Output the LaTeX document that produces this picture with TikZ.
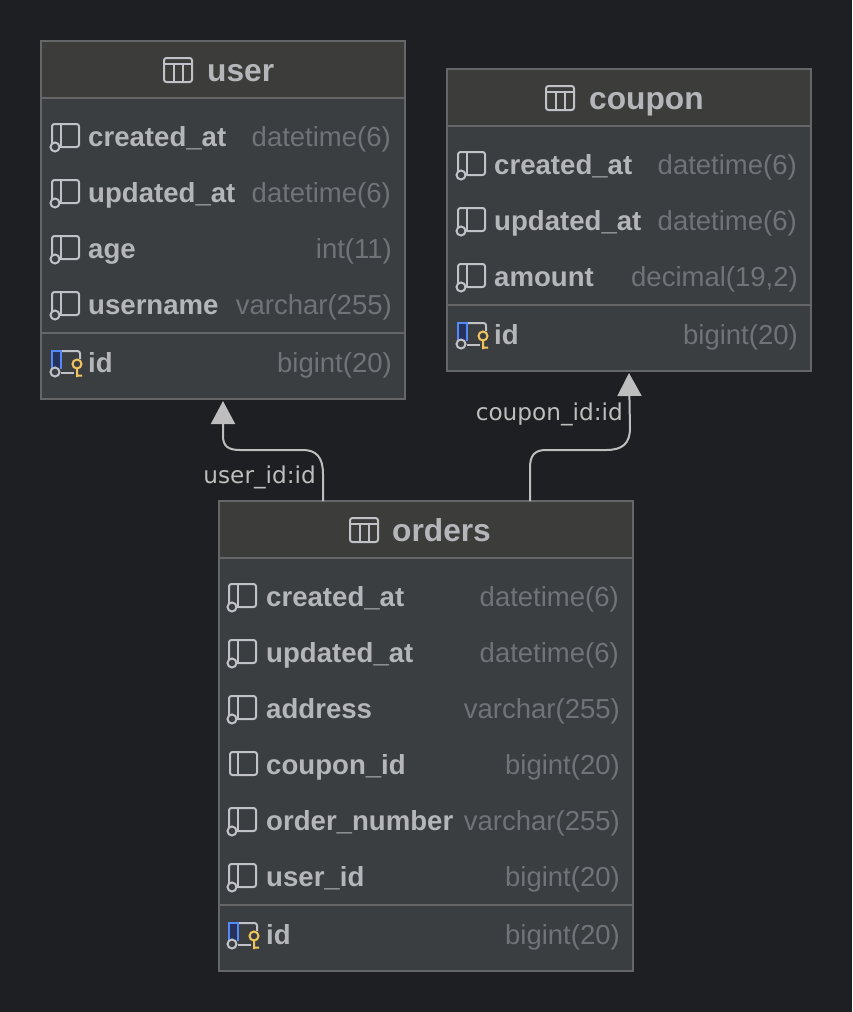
\documentclass[tikz,border=0pt]{standalone}
\usepackage{xcolor}
\usepackage{fontspec}
\setmainfont{Liberation Sans}
\newfontfamily\edgefont{DejaVu Sans}
\usetikzlibrary{arrows.meta}
\definecolor{canvasbg}{RGB}{30,31,34}
\definecolor{headbg}{RGB}{60,60,58}
\definecolor{bodybg}{RGB}{58,62,65}
\definecolor{frameline}{RGB}{100,102,104}
\definecolor{nametext}{RGB}{180,182,186}
\definecolor{typetext}{RGB}{112,115,119}
\definecolor{edgeline}{RGB}{190,190,190}
\definecolor{iconline}{RGB}{192,194,200}
\definecolor{pkblue}{RGB}{84,138,247}
\definecolor{pkfill}{RGB}{37,50,92}
\definecolor{keygold}{RGB}{242,197,92}

\begin{document}
\begin{tikzpicture}[x=1pt,y=-1pt,
    tablebody/.style={rectangle, draw=frameline, fill=bodybg, line width=1.2pt, inner sep=0pt, outer sep=0pt},
    tablehead/.style={rectangle, draw=frameline, fill=headbg, line width=1.2pt, inner sep=0pt, outer sep=0pt},
    tabletitle/.style={anchor=base west, inner sep=0pt, text=nametext, font=\fontsize{31.7}{32}\selectfont\bfseries},
    fieldname/.style={anchor=base west, inner sep=0pt, text=nametext, font=\fontsize{27.6}{28}\selectfont\bfseries},
    fieldtype/.style={anchor=base east, inner sep=0pt, text=typetext, font=\fontsize{27.5}{28}\selectfont},
    edgelabel/.style={anchor=base east, inner sep=0pt, text=edgeline, font=\fontsize{23.2}{24}\selectfont\edgefont},
    fklink/.style={-{Triangle[length=23pt,width=24pt]}, draw=edgeline, fill=none, line width=2pt},
    rowline/.style={draw=frameline, line width=1.2pt},
    icon/.style={draw=iconline, line width=2pt},
    pics/tableicon/.style={code={
        \draw[icon, rounded corners=2.5pt] (0,-12) rectangle (28,12);
        \draw[icon] (0,-6) -- (28,-6) (10,-6) -- (10,12) (19,-6) -- (19,12);
    }},
    pics/plaincol/.style={code={
        \draw[icon, rounded corners=2.5pt] (12,-13) rectangle (39,10);
        \draw[icon] (20,-13) -- (20,10);
    }},
    pics/linkcol/.style={code={
        \draw[icon, rounded corners=2.5pt] (11,6) -- (11,-13) -- (38,-13) -- (38,10) -- (19,10);
        \draw[icon] (20,-13) -- (20,10);
        \draw[icon, fill=bodybg] (14,10) circle (4.5);
    }},
    pics/keycol/.style={code={
        \fill[pkfill] (11,-12) rectangle (20,6);
        \draw[icon, rounded corners=2.5pt] (20,-12) -- (39,-12) -- (39,-4);
        \draw[icon] (20,10) -- (33,10);
        \draw[pkblue, line width=2pt] (11,6) -- (11,-12) -- (20,-12) -- (20,6);
        \draw[icon, fill=bodybg] (14,9) circle (4.5);
        \draw[keygold, line width=2pt] (36,1) circle (4.5) (36,5.5) -- (36,14) (36,12.5) -- (41,12.5);
    }}
]

% Background
\fill[canvasbg] (0,0) rectangle (852,1012);

% Table user
\node[tablebody, minimum width=364pt, minimum height=358pt] (user) at (223,220) {};
\node[tablehead, minimum width=364pt, minimum height=57pt] (userhead) at (223,69.5) {};
\pic at (164,70) {tableicon};
\node[tabletitle] (usertitle) at (207,81) {user};
\draw[rowline] (user.west |- 0,333) -- (user.east |- 0,333);

\pic at (41,137) {linkcol};
\node[fieldname] (user1) at (88,146) {created\_at};
\node[fieldtype] (user1t) at (391,146) {datetime(6)};
\pic at (41,193) {linkcol};
\node[fieldname] (user2) at (88,202) {updated\_at};
\node[fieldtype] (user2t) at (391,202) {datetime(6)};
\pic at (41,249) {linkcol};
\node[fieldname] (user3) at (88,258) {age};
\node[fieldtype] (user3t) at (392,258) {int(11)};
\pic at (41,305) {linkcol};
\node[fieldname] (user4) at (88,314) {username};
\node[fieldtype] (user4t) at (392,314) {varchar(255)};
\pic at (41,363) {keycol};
\node[fieldname] (user5) at (88,372) {id};
\node[fieldtype] (user5t) at (392,372) {bigint(20)};

% Table coupon
\node[tablebody, minimum width=364pt, minimum height=302pt] (coupon) at (629,220) {};
\node[tablehead, minimum width=364pt, minimum height=57pt] (couponhead) at (629,97.5) {};
\pic at (546,98) {tableicon};
\node[tabletitle] (coupontitle) at (589,109) {coupon};
\draw[rowline] (coupon.west |- 0,305) -- (coupon.east |- 0,305);

\pic at (447,165) {linkcol};
\node[fieldname] (coupon1) at (494,174) {created\_at};
\node[fieldtype] (coupon1t) at (797,174) {datetime(6)};
\pic at (447,221) {linkcol};
\node[fieldname] (coupon2) at (494,230) {updated\_at};
\node[fieldtype] (coupon2t) at (797,230) {datetime(6)};
\pic at (447,277) {linkcol};
\node[fieldname] (coupon3) at (494,286) {amount};
\node[fieldtype] (coupon3t) at (798,286) {decimal(19,2)};
\pic at (447,335) {keycol};
\node[fieldname] (coupon4) at (494,344) {id};
\node[fieldtype] (coupon4t) at (798,344) {bigint(20)};

% Table orders
\node[tablebody, minimum width=414pt, minimum height=470pt] (orders) at (426,736) {};
\node[tablehead, minimum width=414pt, minimum height=57pt] (ordershead) at (426,529.5) {};
\pic at (350,530) {tableicon};
\node[tabletitle] (orderstitle) at (392,541) {orders};
\draw[rowline] (orders.west |- 0,905) -- (orders.east |- 0,905);

\pic at (218,597) {linkcol};
\node[fieldname] (orders1) at (266,606) {created\_at};
\node[fieldtype] (orders1t) at (619,606) {datetime(6)};
\pic at (218,653) {linkcol};
\node[fieldname] (orders2) at (266,662) {updated\_at};
\node[fieldtype] (orders2t) at (619,662) {datetime(6)};
\pic at (218,709) {linkcol};
\node[fieldname] (orders3) at (266,718) {address};
\node[fieldtype] (orders3t) at (620,718) {varchar(255)};
\pic at (218,765) {plaincol};
\node[fieldname] (orders4) at (266,774) {coupon\_id};
\node[fieldtype] (orders4t) at (620,774) {bigint(20)};
\pic at (218,821) {linkcol};
\node[fieldname] (orders5) at (266,830) {order\_number};
\node[fieldtype] (orders5t) at (620,830) {varchar(255)};
\pic at (218,877) {linkcol};
\node[fieldname] (orders6) at (266,886) {user\_id};
\node[fieldtype] (orders6t) at (620,886) {bigint(20)};
\pic at (218,935) {keycol};
\node[fieldname] (orders7) at (266,944) {id};
\node[fieldtype] (orders7t) at (620,944) {bigint(20)};

% Foreign keys
\draw[fklink] ([xshift=-103pt]orders.north) -- (323,474) .. controls (323,457) and (316,450) .. (303,450) -- (240,450) .. controls (228,450) and (223,446) .. (223,436) -- ([yshift=-2pt]user.south);
\node[edgelabel] (userlink) at (316,483) {user\_id:id};

\draw[fklink] ([xshift=104pt]orders.north) -- (530,468) .. controls (530,456) and (534,450) .. (546,450) -- (606,450) .. controls (622,450) and (630,444) .. (630,428) -- ([yshift=-2pt]coupon.south);
\node[edgelabel] (couponlink) at (623,420) {coupon\_id:id};

\end{tikzpicture}
\end{document}
